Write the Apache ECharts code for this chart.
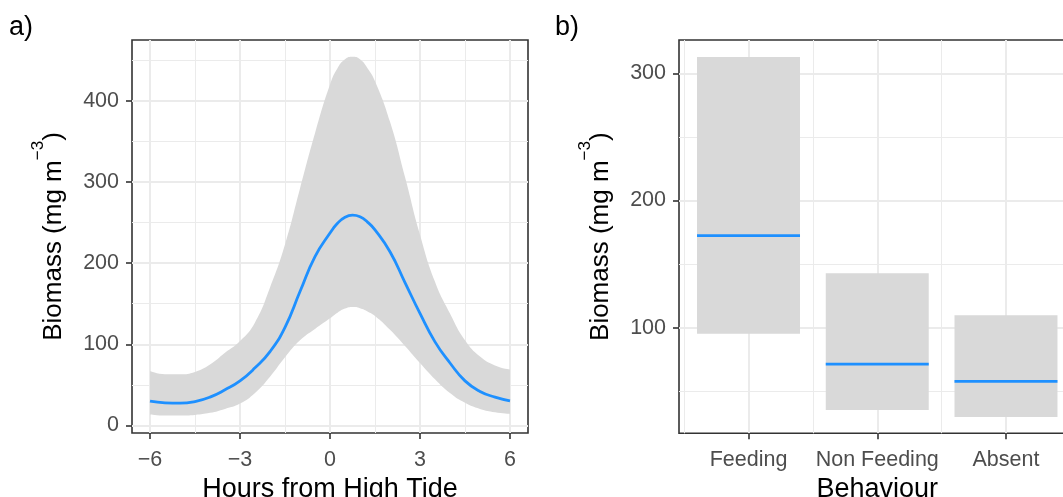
<!DOCTYPE html>
<html>
<head>
<meta charset="utf-8">
<script src="https://cdn.jsdelivr.net/npm/echarts@6/dist/echarts.min.js"></script>
<style>
html,body{margin:0;padding:0;background:#fff;}
#chart{width:1063px;height:497px;}
</style>
</head>
<body>
<div id="chart"></div>
<script>
// ---- Panel a) data ----
const hours       = [-6,  -5.5, -5,   -4.5, -4,   -3.5, -3,  -2.5, -2,  -1.5, -1,  -0.5, 0,   0.25, 0.5,   0.75, 1,     1.25,  1.5, 2,   2.5, 3,   3.5, 4,   4.5, 5,    5.5,  6];
const meanBiomass = [30,  28,   27.5, 29.5, 35,   44,   55,  71,   91,  121,  165, 208,  237, 249,  256.5, 259,  257,   250.5, 241, 214, 176, 138, 103, 77,  55,  42,   35,   30.5];
const lowerCI     = [13.6,12.3, 12.3, 13.1, 15.6, 20.5, 27,  40,   60,  84,   105, 119,  132, 139,  144,   146,  144.5, 140.5, 135, 118, 98,  77,  57,  40,  28,  20.5, 16.4, 14.4];
const upperCI     = [67,  63,   63,   66,   75,   89.5, 104, 127,  170, 223,  292, 360,  420, 440,  451,   454,  451,   440,   424, 374, 306, 235, 177, 138, 105, 85,   74,   69];
const hourTicks = [-6,-3,0,3,6];
const hourMinorTicks = [-4.5,-1.5,1.5,4.5];
const biomassTicksA = [0,100,200,300,400];
const biomassMinorA = [50,150,250,350,450];

// ---- Panel b) data ----
const behaviours = ['Feeding','Non Feeding','Absent'];
const behaviourMean = [172.4,71.4,57.8];
const behaviourLower = [95.3,35.4,29.9];
const behaviourUpper = [312.8,142.8,109.8];
const behaviourTicks = [1,2,3];
const behaviourMinorTicks = [0.5,1.5,2.5,3.5];
const biomassTicksB = [100,200,300];
const biomassMinorB = [50,150,250];

const FONT = "'Liberation Sans', Arial, Helvetica, sans-serif";
const MAJOR = '#EBEBEB';
const BLUE = '#1E90FF';
const BAND = '#D9D9D9';
const TICKFONT = 21.5;
const TITLEFONT = 27;

function fmtNum(v){ return v < 0 ? '\u2212' + Math.abs(v) : String(v); }

function majorAxis(extra){
  return Object.assign({
    type:'value',
    axisLine:{show:false, onZero:false},
    splitLine:{show:true, lineStyle:{color:MAJOR, width:2}},
    nameTextStyle:{color:'#000', fontSize:TITLEFONT, fontFamily:FONT}
  }, extra);
}
function minorAxis(extra){
  return Object.assign({
    type:'value',
    axisLine:{show:false, onZero:false},
    axisLabel:{show:false},
    splitLine:{show:true, lineStyle:{color:MAJOR, width:1}}
  }, extra);
}
function ticks(vals){
  return {show:true, length:6, lineStyle:{color:'#333333', width:1.6}, customValues:vals};
}
function labels(vals, margin, formatter){
  const o = {color:'#4D4D4D', fontSize:TICKFONT, fontFamily:FONT, margin:margin, customValues:vals};
  if (formatter) o.formatter = formatter;
  return o;
}

const yName = '{t|Biomass (mg m}{s|\u22123}{t|)}';
const yNameStyle = {
  color:'#000', fontFamily:FONT,
  rich:{
    t:{fontSize:26, fontFamily:FONT, color:'#000', lineHeight:48},
    s:{fontSize:17, fontFamily:FONT, color:'#000', verticalAlign:'top', lineHeight:17}
  }
};

const boxData = behaviours.map((b,i)=>[i+1, behaviourLower[i], behaviourUpper[i], behaviourMean[i]]);

const chart = echarts.init(document.getElementById('chart'), null, {renderer:'canvas'});
chart.setOption({
  animation:false,
  backgroundColor:'#fff',
  graphic:[
    {type:'text', left:9, top:14, style:{text:'a)', font:'27px ' + FONT, fill:'#000'}},
    {type:'text', left:555, top:14, style:{text:'b)', font:'27px ' + FONT, fill:'#000'}}
  ],
  grid:[
    {left:132, top:40, width:396, height:393, show:true, borderColor:'#333333', borderWidth:1.6, backgroundColor:'transparent', containLabel:false, outerBoundsMode:'none'},
    {left:679, top:40, width:396.5, height:393.3, show:true, borderColor:'#333333', borderWidth:1.6, backgroundColor:'transparent', containLabel:false, outerBoundsMode:'none'}
  ],
  xAxis:[
    majorAxis({gridIndex:0, min:-6.6, max:6.6, position:'bottom',
      axisTick:ticks(hourTicks), axisLabel:labels(hourTicks, 16, fmtNum),
      name:'Hours from High Tide', nameLocation:'middle', nameGap:43}),
    minorAxis({gridIndex:0, min:-6.6, max:6.6, position:'bottom',
      axisTick:{show:false, customValues:hourMinorTicks}}),
    majorAxis({gridIndex:1, min:0.46, max:3.54, position:'bottom',
      axisTick:ticks(behaviourTicks),
      axisLabel:labels(behaviourTicks, 16, function(v){ return behaviours[Math.round(v)-1]; }),
      name:'Behaviour', nameLocation:'middle', nameGap:43}),
    minorAxis({gridIndex:1, min:0.46, max:3.54, position:'bottom',
      axisTick:{show:false, customValues:behaviourMinorTicks}})
  ],
  yAxis:[
    majorAxis({gridIndex:0, min:-9.2, max:474.7, position:'left',
      axisTick:ticks(biomassTicksA), axisLabel:labels(biomassTicksA, 13),
      name:yName, nameLocation:'middle', nameGap:54, nameRotate:90, nameTextStyle:yNameStyle}),
    minorAxis({gridIndex:0, min:-9.2, max:474.7, position:'left',
      axisTick:{show:false, customValues:biomassMinorA}}),
    majorAxis({gridIndex:1, min:17, max:326.2, position:'left',
      axisTick:ticks(biomassTicksB), axisLabel:labels(biomassTicksB, 13),
      name:yName, nameLocation:'middle', nameGap:54, nameRotate:90, nameTextStyle:yNameStyle}),
    minorAxis({gridIndex:1, min:17, max:326.2, position:'left',
      axisTick:{show:false, customValues:biomassMinorB}})
  ],
  series:[
    {
      // lower edge of the confidence ribbon (value first so the stack runs on y)
      type:'line', xAxisIndex:0, yAxisIndex:0, stack:'ci', smooth:0.5, symbol:'none',
      encode:{x:1, y:0},
      lineStyle:{width:0, opacity:0}, silent:true,
      data:hours.map((h,i)=>[lowerCI[i], h])
    },
    {
      // ribbon thickness stacked on the lower edge
      type:'line', xAxisIndex:0, yAxisIndex:0, stack:'ci', smooth:0.5, symbol:'none',
      encode:{x:1, y:0},
      lineStyle:{width:0, opacity:0}, areaStyle:{color:BAND, opacity:1}, silent:true,
      data:hours.map((h,i)=>[upperCI[i]-lowerCI[i], h])
    },
    {
      type:'line', xAxisIndex:0, yAxisIndex:0, smooth:0.5, symbol:'none',
      lineStyle:{color:BLUE, width:2.8}, z:5,
      data:hours.map((h,i)=>[h, meanBiomass[i]])
    },
    {
      type:'custom', xAxisIndex:2, yAxisIndex:2,
      encode:{x:0, y:[1,2,3]},
      data:boxData,
      renderItem:function(params, api){
        const x = api.value(0), lo = api.value(1), hi = api.value(2), m = api.value(3);
        const p1 = api.coord([x-0.4, hi]);
        const p2 = api.coord([x+0.4, lo]);
        const m1 = api.coord([x-0.4, m]);
        const m2 = api.coord([x+0.4, m]);
        return {type:'group', children:[
          {type:'rect', shape:{x:p1[0], y:p1[1], width:p2[0]-p1[0], height:p2[1]-p1[1]}, style:{fill:BAND}},
          {type:'line', shape:{x1:m1[0], y1:m1[1], x2:m2[0], y2:m2[1]}, style:{stroke:BLUE, lineWidth:2.8}}
        ]};
      }
    }
  ]
});
</script>
</body>
</html>
